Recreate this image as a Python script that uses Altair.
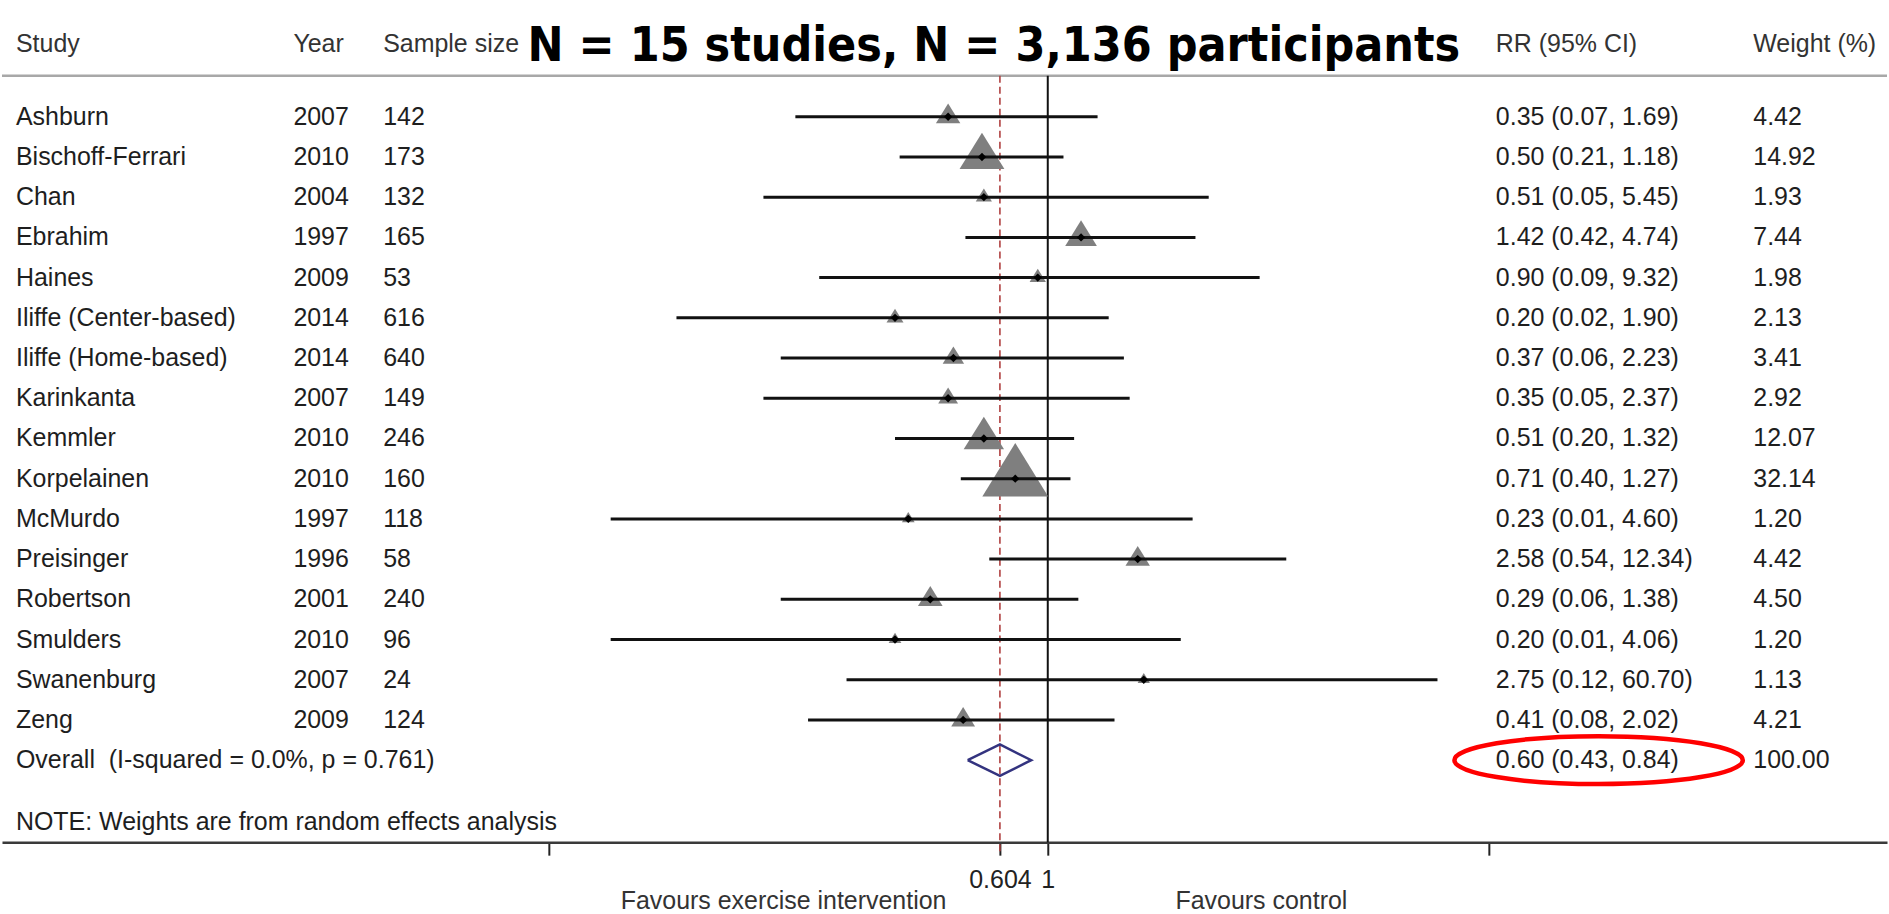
import altair as alt
import pandas as pd

# ---------------- data ----------------
studies = ["Ashburn", "Bischoff-Ferrari", "Chan", "Ebrahim", "Haines",
           "Iliffe (Center-based)", "Iliffe (Home-based)", "Karinkanta", "Kemmler",
           "Korpelainen", "McMurdo", "Preisinger", "Robertson", "Smulders",
           "Swanenburg", "Zeng"]
years = [2007, 2010, 2004, 1997, 2009, 2014, 2014, 2007, 2010, 2010, 1997, 1996,
         2001, 2010, 2007, 2009]
sample_sizes = [142, 173, 132, 165, 53, 616, 640, 149, 246, 160, 118, 58, 240, 96, 24, 124]
rr = [0.35, 0.50, 0.51, 1.42, 0.90, 0.20, 0.37, 0.35, 0.51, 0.71, 0.23, 2.58, 0.29,
      0.20, 2.75, 0.41]
ci_low = [0.07, 0.21, 0.05, 0.42, 0.09, 0.02, 0.06, 0.05, 0.20, 0.40, 0.01, 0.54, 0.06,
          0.01, 0.12, 0.08]
ci_high = [1.69, 1.18, 5.45, 4.74, 9.32, 1.90, 2.23, 2.37, 1.32, 1.27, 4.60, 12.34,
           1.38, 4.06, 60.70, 2.02]
weights = [4.42, 14.92, 1.93, 7.44, 1.98, 2.13, 3.41, 2.92, 12.07, 32.14, 1.20, 4.42,
           4.50, 1.20, 1.13, 4.21]

overall_label = "Overall\u00a0 (I-squared = 0.0%, p = 0.761)"
overall_rr = 0.604
overall_low = 0.43
overall_high = 0.84
overall_weight = 100.00

axis_ticks = [0.0052, 0.604, 1, 104]
headers = ["Study", "Year", "Sample size", "RR (95% CI)", "Weight (%)"]
title_text = "N = 15 studies, N = 3,136 participants"
note_text = "NOTE: Weights are from random effects analysis"
favours_left = "Favours exercise intervention"
favours_right = "Favours control"

# ---------------- tables ----------------
n = len(studies)
df = pd.DataFrame({
    "study": studies, "year": years, "n": sample_sizes,
    "rr": rr, "lo": ci_low, "hi": ci_high, "weight": weights,
})
df["row"] = list(range(1, n + 1))
df["year_t"] = df["year"].astype(str)
df["n_t"] = df["n"].astype(str)
df["rr_t"] = [f"{a:.2f} ({b:.2f}, {c:.2f})" for a, b, c in zip(rr, ci_low, ci_high)]
df["w_t"] = [f"{w:.2f}" for w in weights]

ov_row = n + 1
ov = pd.DataFrame({
    "label": [overall_label], "row": [ov_row],
    "rr_t": [f"{overall_rr:.2f} ({overall_low:.2f}, {overall_high:.2f})"],
    "w_t": [f"{overall_weight:.2f}"],
})
half_h = 0.39  # half height of the summary diamond, in row units (style)
diamond = pd.DataFrame({
    "x": [overall_low, overall_rr, overall_high, overall_rr, overall_low],
    "row": [ov_row, ov_row - half_h, ov_row, ov_row + half_h, ov_row],
    "o": [0, 1, 2, 3, 4],
})
refs = pd.DataFrame({"x": [1.0]})
est = pd.DataFrame({"x": [overall_rr]})
one = pd.DataFrame({"a": [0]})

FONT = "Liberation Sans, Arial, sans-serif"
FS = 25
TXT = "#1e1e1e"

xs = alt.Scale(type="log", domain=[1.64e-5, 6920], nice=False)
ys = alt.Scale(domain=[-1.88, 19.04], reverse=True, nice=False, zero=False)
Y = alt.Y("row:Q", scale=ys, axis=None)

x_axis = alt.Axis(
    values=axis_ticks,
    labelExpr="datum.value == 0.604 ? '0.604' : (datum.value == 1 ? '1' : '')",
    title=None, grid=False, domainColor="#3a3a3a", domainWidth=2.5,
    tickColor="#222222", tickWidth=2, tickSize=13, labelFontSize=FS,
    labelFont=FONT, labelColor="#222222", labelPadding=12,
    labelOverlap=False, labelFlush=False, orient="bottom",
)


def X(field):
    return alt.X(field, scale=xs, axis=x_axis)


layers = []

# header underline
layers.append(alt.Chart(one).mark_rule(color="#a8a8a8", strokeWidth=2.5).encode(
    x=alt.value(0), x2=alt.value(1889), y=alt.value(75)))

# header texts
head_x = [14, 292, 382, 1497, 1755]
for h, hx in zip(headers, head_x):
    layers.append(alt.Chart(one).mark_text(
        text=h, align="left", baseline="middle", font=FONT, fontSize=FS, color="#333333"
    ).encode(x=alt.value(hx), y=alt.value(43)))

# big title
layers.append(alt.Chart(one).mark_text(
    text=title_text, align="center", baseline="alphabetic",
    font="DejaVu Sans Condensed, DejaVu Sans, sans-serif",
    fontWeight="bold", fontSize=48, color="#000000"
).encode(x=alt.value(994), y=alt.value(60)))

# reference lines
layers.append(alt.Chart(refs).mark_rule(color="#111111", strokeWidth=2).encode(
    x=X("x:Q"), y=alt.value(75), y2=alt.value(843)))
layers.append(alt.Chart(est).mark_rule(color="#b04040", strokeWidth=1.6,
                                       strokeDash=[7, 4]).encode(
    x=X("x:Q"), y=alt.value(75), y2=alt.value(856)))

# weight triangles
tri = "M0,-1.08L1,0.54L-1,0.54Z"
layers.append(alt.Chart(df).mark_point(shape=tri, filled=True, color="#7f7f7f",
                                       opacity=1).encode(
    x=X("rr:Q"), y=Y,
    size=alt.Size("weight:Q", scale=alt.Scale(domain=[0, 40], range=[0, 5420]),
                  legend=None)))

# CI lines
layers.append(alt.Chart(df).mark_rule(color="#111111", strokeWidth=3).encode(
    x=X("lo:Q"), x2="hi:Q", y=Y))

# point estimates
layers.append(alt.Chart(df).mark_point(shape="diamond", filled=True, color="#000000",
                                       size=70, opacity=1).encode(
    x=X("rr:Q"), y=Y))

# overall diamond
layers.append(alt.Chart(diamond).mark_line(color="#33337f", strokeWidth=2.5).encode(
    x=X("x:Q"), y=Y, order="o:Q"))

# table columns
for field, cx in [("study", 14), ("year_t", 292), ("n_t", 382), ("rr_t", 1497),
                  ("w_t", 1755)]:
    layers.append(alt.Chart(df).mark_text(
        align="left", baseline="middle", font=FONT, fontSize=FS, color=TXT
    ).encode(x=alt.value(cx), y=Y, text=f"{field}:N"))

for field, cx in [("label", 14), ("rr_t", 1497), ("w_t", 1755)]:
    layers.append(alt.Chart(ov).mark_text(
        align="left", baseline="middle", font=FONT, fontSize=FS, color=TXT
    ).encode(x=alt.value(cx), y=Y, text=f"{field}:N"))

# red ellipse highlighting the pooled estimate
ell = ("M-1,0C-1,-0.0917,-0.5523,-0.166,0,-0.166C0.5523,-0.166,1,-0.0917,1,0"
       "C1,0.0917,0.5523,0.166,0,0.166C-0.5523,0.166,-1,0.0917,-1,0Z")
layers.append(alt.Chart(ov).mark_point(shape=ell, filled=False, color="#ff0000",
                                       strokeWidth=4.5, size=83521, opacity=1).encode(
    x=alt.value(1600), y=Y))

# note and favours labels
layers.append(alt.Chart(one).mark_text(
    text=note_text, align="left", baseline="middle", font=FONT, fontSize=FS, color=TXT
).encode(x=alt.value(14), y=alt.value(823)))
layers.append(alt.Chart(one).mark_text(
    text=favours_left, align="left", baseline="middle", font=FONT, fontSize=FS,
    color="#333333").encode(x=alt.value(620), y=alt.value(902)))
layers.append(alt.Chart(one).mark_text(
    text=favours_right, align="left", baseline="middle", font=FONT, fontSize=FS,
    color="#333333").encode(x=alt.value(1176), y=alt.value(902)))

chart = alt.layer(*layers).properties(
    width=1889, height=843, padding=0, background="white"
).configure_view(stroke=None)

chart.save("out.html", embed_options={"renderer": "svg", "actions": False})
